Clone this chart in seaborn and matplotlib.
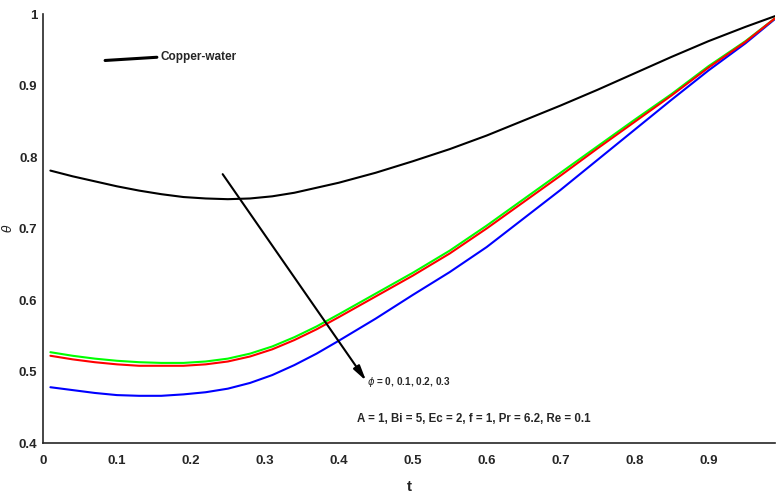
import numpy as np
import pandas as pd
import matplotlib
matplotlib.use("Agg")
import matplotlib.pyplot as plt
import seaborn as sns
from matplotlib import font_manager

t = [0.01, 0.04, 0.07, 0.10, 0.13, 0.16, 0.19, 0.22, 0.25, 0.28, 0.31, 0.34, 0.37,
     0.40, 0.45, 0.50, 0.55, 0.60, 0.65, 0.70, 0.75, 0.80, 0.85, 0.90, 0.95, 0.99]
theta_black = [0.781, 0.773, 0.766, 0.759, 0.753, 0.748, 0.744, 0.742, 0.741, 0.742, 0.745,
               0.750, 0.757, 0.764, 0.778, 0.794, 0.811, 0.830, 0.851, 0.872, 0.894,
               0.917, 0.940, 0.962, 0.982, 0.997]
theta_blue = [0.478, 0.474, 0.470, 0.467, 0.466, 0.466, 0.468, 0.471, 0.476, 0.484, 0.495,
              0.509, 0.525, 0.543, 0.574, 0.607, 0.639, 0.674, 0.714, 0.754, 0.796,
              0.838, 0.880, 0.921, 0.959, 0.993]
theta_green = [0.527, 0.522, 0.518, 0.515, 0.513, 0.512, 0.512, 0.514, 0.518, 0.525, 0.535,
               0.548, 0.563, 0.580, 0.609, 0.638, 0.669, 0.704, 0.741, 0.778, 0.815,
               0.852, 0.888, 0.927, 0.962, 0.994]
theta_red = [0.522, 0.517, 0.513, 0.510, 0.508, 0.508, 0.508, 0.510, 0.514, 0.521, 0.531,
             0.544, 0.559, 0.576, 0.605, 0.634, 0.665, 0.700, 0.737, 0.774, 0.812,
             0.849, 0.886, 0.925, 0.961, 0.994]

series_names = ["black", "blue", "green", "red"]
series_colors = ["#000000", "#0000ff", "#00ff00", "#ff0000"]
x_ticks = [0, 0.1, 0.2, 0.3, 0.4, 0.5, 0.6, 0.7, 0.8, 0.9]
x_tick_labels = ["0", "0.1", "0.2", "0.3", "0.4", "0.5", "0.6", "0.7", "0.8", "0.9"]
y_ticks = [0.4, 0.5, 0.6, 0.7, 0.8, 0.9, 1.0]
y_tick_labels = ["0.4", "0.5", "0.6", "0.7", "0.8", "0.9", "1"]

df = pd.concat([
    pd.DataFrame({"t": t, "theta": theta_black, "s": "black"}),
    pd.DataFrame({"t": t, "theta": theta_blue, "s": "blue"}),
    pd.DataFrame({"t": t, "theta": theta_green, "s": "green"}),
    pd.DataFrame({"t": t, "theta": theta_red, "s": "red"}),
])

sns.set_style("white")
names = {f.name for f in font_manager.fontManager.ttflist}
fam = "Liberation Sans Narrow" if "Liberation Sans Narrow" in names else "Liberation Sans"
plt.rcParams["font.family"] = [fam, "DejaVu Sans"]

fig = plt.figure(figsize=(7.76, 4.95), dpi=100)
ax = fig.add_axes([43/776, 1-443/495, (775-43)/776, (443-14)/495])

sns.lineplot(data=df, x="t", y="theta", hue="s", hue_order=series_names,
             palette=dict(zip(series_names, series_colors)), legend=False,
             linewidth=1.5, ax=ax, sort=False)

ax.set_xlim(0, 0.99)
ax.set_ylim(0.4, 1.0)
ax.set_xticks(x_ticks)
ax.set_xticklabels(x_tick_labels)
ax.set_yticks(y_ticks)
ax.set_yticklabels(y_tick_labels)
for lab in ax.get_xticklabels() + ax.get_yticklabels():
    lab.set_fontweight("bold")
    lab.set_fontsize(9.5)
ax.tick_params(axis="x", direction="in", length=8.5, width=1, pad=9, colors="#262626")
ax.tick_params(axis="y", direction="in", length=5, width=1, pad=4, colors="#262626")
for side in ["top", "right"]:
    ax.spines[side].set_visible(False)
for side in ["left", "bottom"]:
    ax.spines[side].set_color("#262626")
    ax.spines[side].set_linewidth(1.2)

ax.set_xlabel("t", fontsize=11, fontweight="bold")
ax.xaxis.set_label_coords(0.5, -0.086)
ax.set_ylabel(r"$\theta$", fontsize=9)
ax.yaxis.set_label_coords(-0.038, 0.5)

# Copper-water annotation
ax.plot([0.084, 0.154], [0.935, 0.9395], color="black", linewidth=2.2)
ax.text(0.159, 0.940, "Copper-water", fontsize=8.5, fontweight="bold", va="center", ha="left")

# arrow
ax.annotate("", xy=(0.437, 0.487), xytext=(0.243, 0.776),
            arrowprops=dict(arrowstyle="-|>,head_length=0.9,head_width=0.22",
                            color="black", lw=1.5, shrinkA=0, shrinkB=0))
ax.text(0.438, 0.486, r"$\phi$ = 0, 0.1, 0.2, 0.3", fontsize=7.2, fontweight="bold",
        va="center", ha="left")
ax.text(0.424, 0.434, "A = 1, Bi = 5, Ec = 2, f = 1, Pr = 6.2, Re = 0.1",
        fontsize=8.3, fontweight="bold", va="center", ha="left")

fig.savefig("out.png", dpi=100)
